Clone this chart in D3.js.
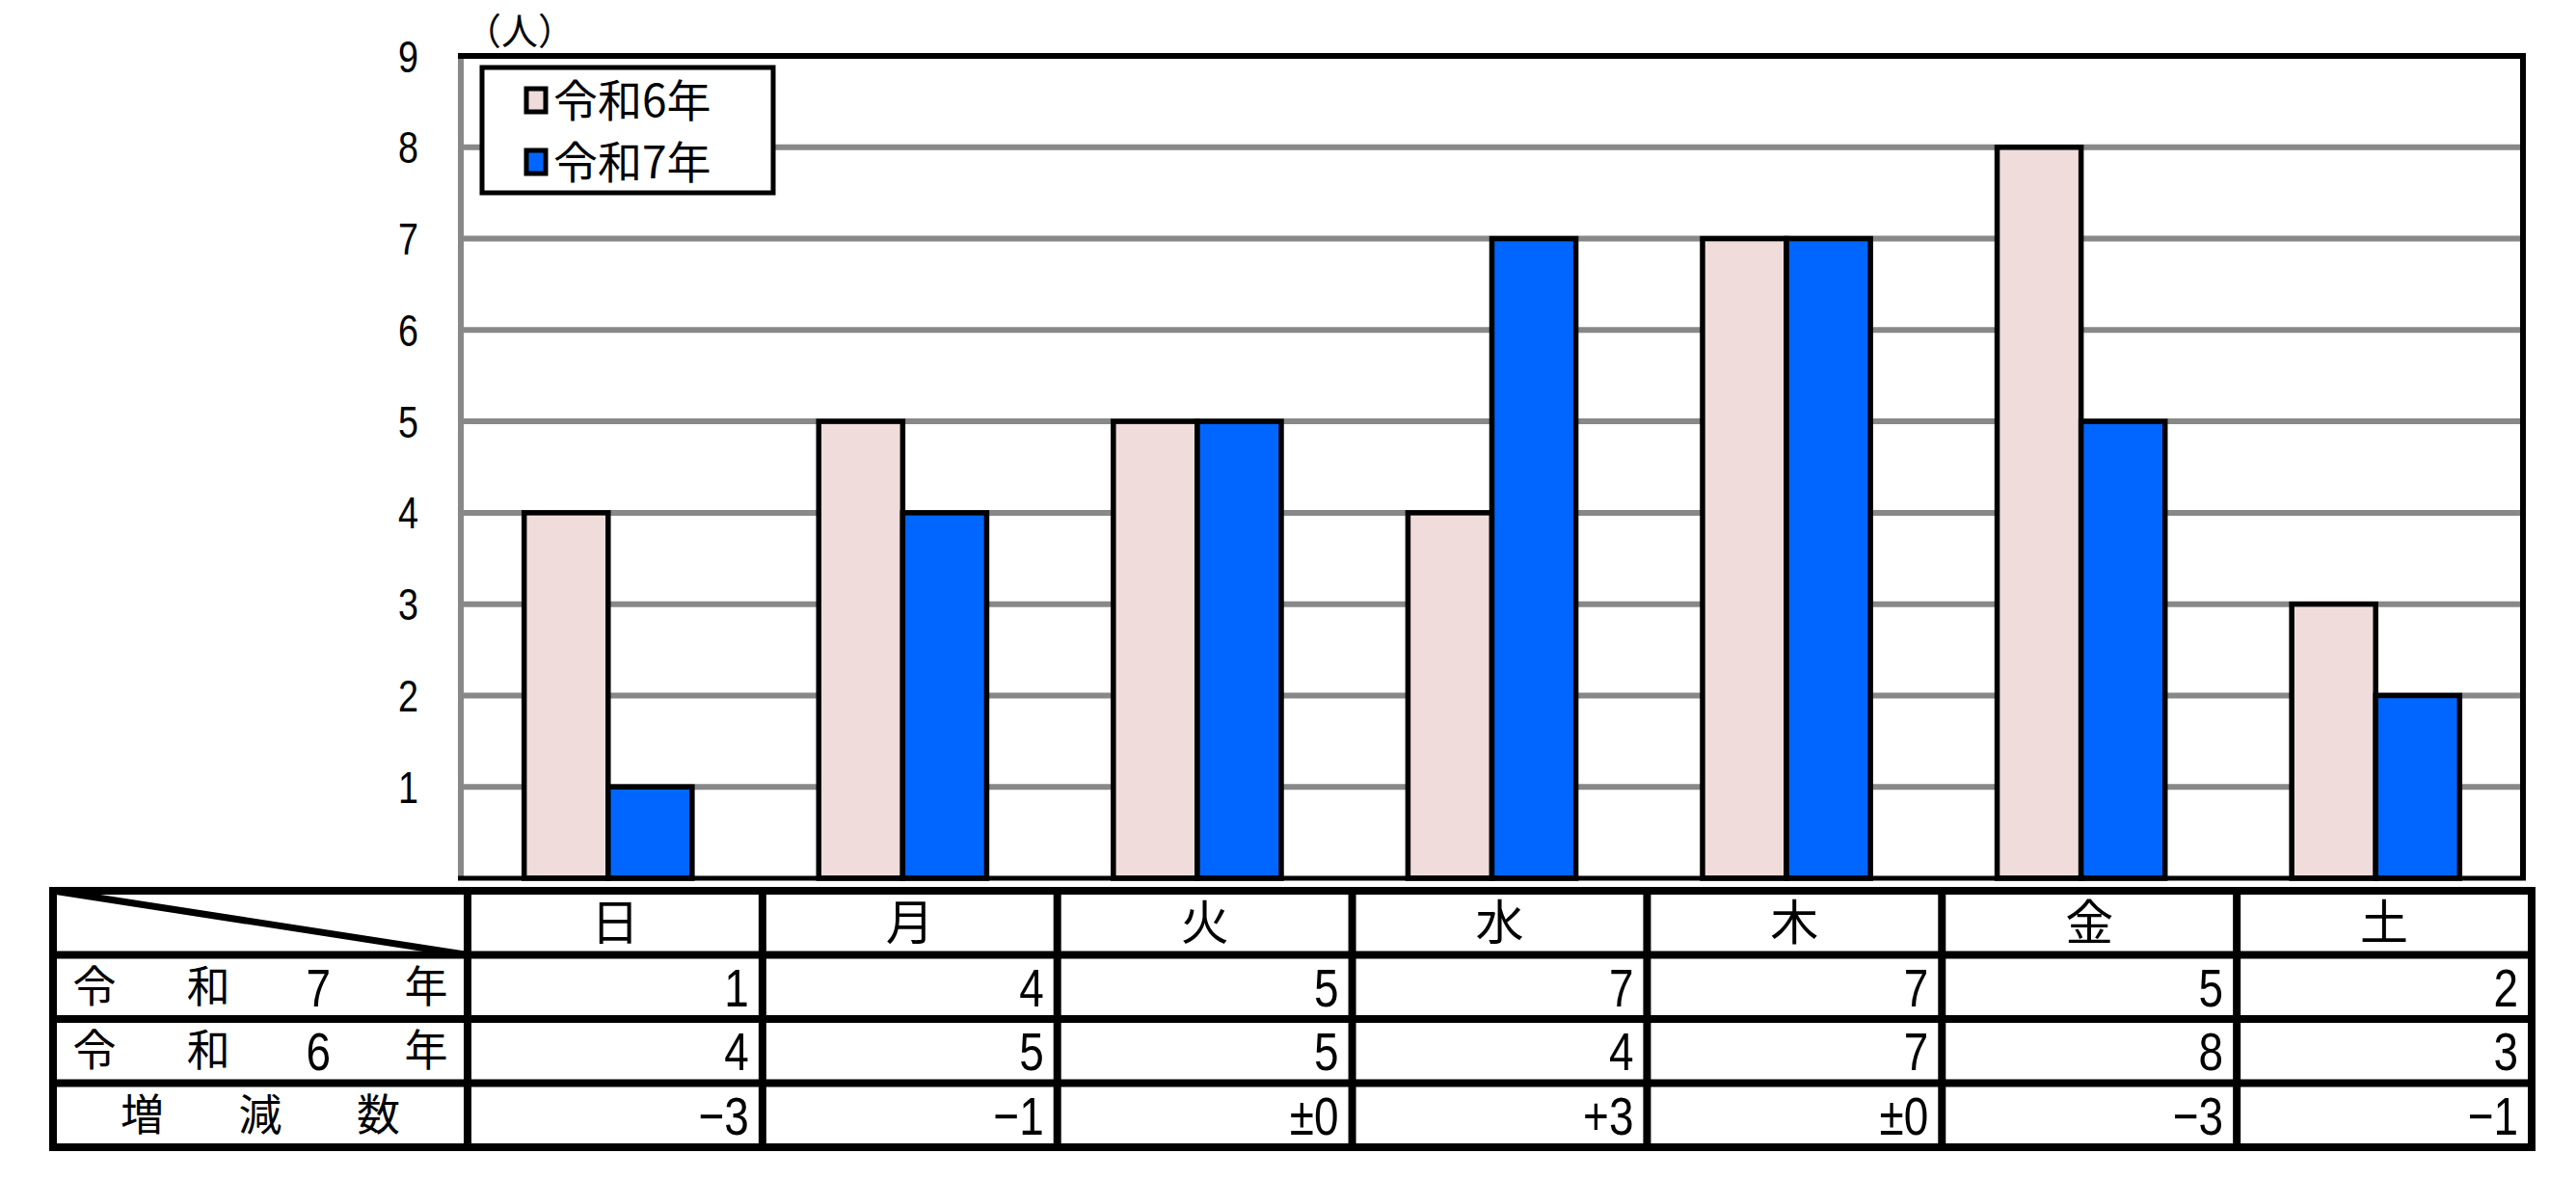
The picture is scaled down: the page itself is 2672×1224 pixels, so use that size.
<!DOCTYPE html>
<html>
<head>
<meta charset="utf-8">
<script src="https://cdn.jsdelivr.net/npm/d3@7/dist/d3.min.js"></script>
<style>
  body { margin: 0; background: #fff; }
  text { font-family: "Noto Sans CJK JP", "Noto Sans", sans-serif; fill: #000; }
  text.num { font-family: "Liberation Sans", Arial, sans-serif; }
</style>
</head>
<body>
<div id="chart"></div>
<script>
// data
const days = ["日", "月", "火", "水", "木", "金", "土"]
const seriesNames = ["令和6年", "令和7年"]
const r6 = [4, 5, 5, 4, 7, 8, 3]
const r7 = [1, 4, 5, 7, 7, 5, 2]
const diffLabels = ["−3", "−1", "±0", "+3", "±0", "−3", "−1"]
const yTicks = [1, 2, 3, 4, 5, 6, 7, 8, 9]
const unitLabel = "（人）"
const rowLabels = [["令", "和", "7", "年"], ["令", "和", "6", "年"], ["増", "減", "数"]]

const width = 2672
const height = 1224
const colors = ["#F0DCDB", "#0066FF"]
const narrow = 0.82 // the digits in the picture are tall and narrow

// plot box
const pLeft = 478, pRight = 2617, pTop = 58, pBottom = 911
// table box
const tLeft = 55, tSplit = 485, tRight = 2626, tTop = 924, tBottom = 1190

const svg = d3.select("#chart")
  .append("svg")
  .attr("width", width)
  .attr("height", height)

const y = d3.scaleLinear().domain([0, 9]).range([pBottom, pTop])
const x = d3.scaleBand().domain(days).range([pLeft, pRight])
  .paddingInner(0.43).paddingOuter(0.215)
const xs = d3.scaleBand().domain([0, 1]).range([0, x.bandwidth()])

// gridlines
svg.selectAll("line.grid")
  .data(yTicks.filter(d => d < 9))
  .join("line")
  .attr("class", "grid")
  .attr("x1", pLeft).attr("x2", pRight)
  .attr("y1", d => y(d)).attr("y2", d => y(d))
  .attr("stroke", "#888")
  .attr("stroke-width", 6)

// left axis (grey) + black frame on the other sides
svg.append("line")
  .attr("x1", pLeft).attr("x2", pLeft).attr("y1", pTop).attr("y2", pBottom)
  .attr("stroke", "#888").attr("stroke-width", 6)
svg.append("line")
  .attr("x1", pLeft - 3).attr("x2", pRight + 3).attr("y1", pTop).attr("y2", pTop)
  .attr("stroke", "#000").attr("stroke-width", 6)
svg.append("line")
  .attr("x1", pRight).attr("x2", pRight).attr("y1", pTop).attr("y2", pBottom)
  .attr("stroke", "#000").attr("stroke-width", 6)

// bars
const seriesData = [r6, r7]
seriesData.forEach((vals, si) => {
  svg.selectAll("rect.s" + si)
    .data(vals)
    .join("rect")
    .attr("class", "s" + si)
    .attr("x", (d, i) => x(days[i]) + xs(si))
    .attr("width", xs.bandwidth())
    .attr("y", d => y(d))
    .attr("height", d => y(0) - y(d))
    .attr("fill", colors[si])
    .attr("stroke", "#000")
    .attr("stroke-width", 5.5)
})

svg.append("line")
  .attr("x1", pLeft - 3).attr("x2", pRight + 3).attr("y1", pBottom).attr("y2", pBottom)
  .attr("stroke", "#000").attr("stroke-width", 5)

// y tick labels
svg.selectAll("text.ytick")
  .data(yTicks)
  .join("text")
  .attr("class", "ytick num")
  .attr("transform", d => `translate(434,${y(d)}) scale(${narrow},1)`)
  .attr("dy", "0.36em")
  .attr("text-anchor", "end")
  .style("font-size", "46px")
  .text(d => d)

svg.append("text")
  .attr("x", 482)
  .attr("y", 46)
  .style("font-size", "38px")
  .text(unitLabel)

// legend
svg.append("rect")
  .attr("x", 500).attr("y", 70).attr("width", 302).attr("height", 130)
  .attr("fill", "#fff").attr("stroke", "#000").attr("stroke-width", 5)
seriesNames.forEach((name, i) => {
  const cy = 104 + i * 64
  svg.append("rect")
    .attr("x", 546).attr("y", cy - 12).attr("width", 20).attr("height", 24)
    .attr("fill", colors[i]).attr("stroke", "#000").attr("stroke-width", 5)
  svg.append("text")
    .attr("x", 574).attr("y", cy)
    .attr("dy", "0.36em")
    .style("font-size", "46px")
    .text(name)
})

// table
const tx = d3.scaleBand().domain(days).range([tSplit, tRight])
const ty = d3.scaleBand().domain([0, 1, 2, 3]).range([tTop, tBottom])
const tableStroke = 8

// header labels
svg.selectAll("text.day")
  .data(days)
  .join("text")
  .attr("class", "day")
  .attr("x", d => tx(d) + tx.bandwidth() / 2)
  .attr("y", ty(0) + ty.bandwidth() / 2)
  .attr("dy", "0.36em")
  .attr("text-anchor", "middle")
  .style("font-size", "50px")
  .text(d => d)

// row labels, spread across the first column
const labelW = tSplit - tLeft
rowLabels.forEach((chars, r) => {
  const cy = ty(r + 1) + ty.bandwidth() / 2
  const pos = chars.length === 4 ? [0.10, 0.375, 0.64, 0.90] : [0.215, 0.5, 0.785]
  chars.forEach((c, k) => {
    const isNum = /[0-9]/.test(c)
    svg.append("text")
      .attr("class", isNum ? "num" : null)
      .attr("transform", `translate(${tLeft + labelW * pos[k]},${cy})` + (isNum ? ` scale(${narrow},1)` : ""))
      .attr("dy", "0.36em")
      .attr("text-anchor", "middle")
      .style("font-size", isNum ? "56px" : "45px")
      .text(c)
  })
})

// values
const rows = [r7, r6, diffLabels]
rows.forEach((vals, r) => {
  const cy = ty(r + 1) + ty.bandwidth() / 2
  svg.selectAll("text.v" + r)
    .data(vals)
    .join("text")
    .attr("class", "num v" + r)
    .attr("transform", (d, i) => `translate(${tx(days[i]) + tx.bandwidth() - 14},${cy}) scale(${narrow},1)`)
    .attr("dy", "0.36em")
    .attr("text-anchor", "end")
    .style("font-size", "56px")
    .text(d => d)
})

// table grid
const hLines = [tTop, ty(1), ty(2), ty(3), tBottom]
svg.selectAll("line.th")
  .data(hLines)
  .join("line")
  .attr("class", "th")
  .attr("x1", tLeft - tableStroke / 2).attr("x2", tRight + tableStroke / 2)
  .attr("y1", d => d).attr("y2", d => d)
  .attr("stroke", "#000").attr("stroke-width", tableStroke)
const vLines = [tLeft, tSplit].concat(days.map(d => tx(d) + tx.bandwidth()))
svg.selectAll("line.tv")
  .data(vLines)
  .join("line")
  .attr("class", "tv")
  .attr("x1", d => d).attr("x2", d => d)
  .attr("y1", tTop).attr("y2", tBottom)
  .attr("stroke", "#000").attr("stroke-width", tableStroke)
svg.append("line")
  .attr("x1", tLeft).attr("y1", tTop)
  .attr("x2", tSplit).attr("y2", ty(1))
  .attr("stroke", "#000").attr("stroke-width", 7)
</script>
</body>
</html>
